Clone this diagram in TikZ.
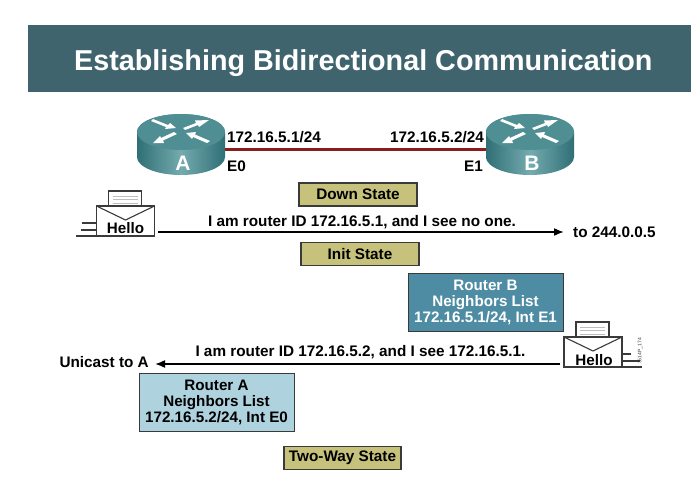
\documentclass[tikz,border=0pt]{standalone}
\usepackage{fontspec}
\setmainfont{Liberation Sans}
\usetikzlibrary{arrows.meta}
\definecolor{headbar}{HTML}{3F646E}
\definecolor{routertop}{HTML}{4F8E93}
\definecolor{routerdark}{HTML}{2F6F75}
\definecolor{routerlight}{HTML}{74ABAE}
\definecolor{linkred}{HTML}{8A1C1C}
\definecolor{statefill}{HTML}{C6C27C}
\definecolor{tealbox}{HTML}{4E8CA3}
\definecolor{lightbox}{HTML}{AFD2DF}
\definecolor{inkgrey}{HTML}{3A3A3A}
\definecolor{papergrey}{HTML}{BDBDBD}
\tikzset{
  x=1pt,y=-1pt,
  lbl/.style={font=\bfseries\fontsize{15.3}{16}\selectfont,text=black,inner sep=0pt},
  statebox/.style={draw=inkgrey,line width=1.1pt,fill=statefill,minimum width=118pt,minimum height=23pt,inner sep=0pt,font=\bfseries\fontsize{15.3}{16}\selectfont},
  listbox/.style={draw=inkgrey,line width=1pt,minimum width=155pt,minimum height=58pt,inner sep=0pt,align=center,font=\bfseries\fontsize{15.2}{16}\selectfont},
  routerletter/.style={font=\bfseries\fontsize{21}{22}\selectfont,text=white,inner sep=0pt},
  flow/.style={line width=1.6pt,draw=black,-{Latex[length=10pt,width=8pt]}},
  envline/.style={draw=inkgrey,line width=1.1pt},
  paperline/.style={draw=papergrey,line width=.7pt},
  hellotext/.style={font=\bfseries\fontsize{15.2}{16}\selectfont,inner sep=0pt}
}
% router: #1 centre x, #2 letter, #3 node name
\newcommand{\routerdraw}[3]{%
  \begin{scope}[shift={(#1,0)}]
    \shade[left color=routerdark,right color=routerdark,middle color=routerlight]
      (-44,132) -- (-44,157) arc[start angle=180,end angle=0,x radius=44,y radius=18] -- (44,132) arc[start angle=0,end angle=-180,x radius=44,y radius=18] -- cycle;
    \fill[routertop] (0,132) ellipse[x radius=44,y radius=18];
    \fill[white] (-28,119) -- (-13,125) -- (-11,123) -- (-5,128) -- (-16,129) -- (-15,127) -- (-30,121) -- cycle;
    \fill[white] (28,120) -- (14,120.5) -- (15,123) -- (2,128) -- (4,130) -- (17,125) -- (18,127) -- cycle;
    \fill[white] (-28,143) -- (-17,143) -- (-18,140.5) -- (-4,134) -- (-7,132) -- (-20,138) -- (-21,136) -- cycle;
    \fill[white] (5,133) -- (15,132) -- (14,134.5) -- (29,141) -- (26,143) -- (12,137) -- (11,139) -- cycle;
    \node[routerletter] (#3) at (2,163) {#2};
  \end{scope}}
% envelope: #1 left x, #2 top y
\newcommand{\envelopedraw}[2]{%
  \begin{scope}[shift={(#1,#2)}]
    \draw[envline,fill=white] (12,-15) rectangle (45,0);
    \draw[paperline] (16,-10) -- (41,-10) (16,-6.5) -- (41,-6.5) (16,-3) -- (41,-3);
    \draw[envline,fill=white] (0,0) rectangle (58,30);
    \draw[envline] (0,0) -- (29,14) -- (58,0);
  \end{scope}}
\begin{document}
\begin{tikzpicture}
\useasboundingbox (0,0) rectangle (699,479);
\fill[white] (0,0) rectangle (699,479);
\fill[headbar] (28,25) rectangle (691,92);
\node[font=\bfseries\fontsize{28.75}{30}\selectfont,text=white,inner sep=0pt,anchor=west] (title) at (74,63) {Establishing Bidirectional Communication};

\coordinate (linkA) at (224,149.5);
\coordinate (linkB) at (486,149.5);
\draw[linkred,line width=3pt] (linkA) -- (linkB);
\routerdraw{181}{A}{ra}
\routerdraw{530}{B}{rb}
\node[lbl,anchor=west] (ipa) at (227,137) {172.16.5.1/24};
\node[lbl,anchor=east] (ipb) at (484,137) {172.16.5.2/24};
\node[lbl,anchor=west] (e0) at (227,166) {E0};
\node[lbl,anchor=east] (e1) at (483,166) {E1};

\node[statebox] (down) at (358,194.5) {\raisebox{-.8pt}{Down State}};
\node[statebox] (init) at (360,254) {Init State};
\node[statebox,minimum width=117pt] (two) at (342.5,458) {Two-Way State};

\node[listbox,fill=tealbox,text=white] (listb) at (485.5,302) {Router B\\Neighbors List\\172.16.5.1/24, Int E1};
\node[listbox,fill=lightbox,text=black] (lista) at (216.5,402) {Router A\\Neighbors List\\172.16.5.2/24, Int E0};

% left hello
\envelopedraw{96.5}{206}
\draw[envline] (82,223) -- (96.5,223) (81,230) -- (96.5,230) (76,236) -- (96.5,236);
\node[hellotext] (hello1) at (125.5,228.5) {Hello};
\coordinate (dest1) at (564,232);
\coordinate (src1) at (158,232);
\draw[flow] (src1) -- (dest1);
\node[lbl,anchor=west] (to) at (573,232) {to 244.0.0.5};
\node[lbl] (msg1) at (362,222) {I am router ID 172.16.5.1, and I see no one.};

% right hello
\envelopedraw{564}{337}
\draw[envline] (622,354) -- (631,354) (622,361) -- (640,361) (622,367) -- (642,367);
\node[hellotext] (hello2) at (594,360) {Hello};
\node[rotate=90,font=\fontsize{5}{5}\selectfont,text=inkgrey,inner sep=0pt] (code) at (640,351) {3514P\_174};
\coordinate (src2) at (560,364);
\coordinate (dest2) at (155,364);
\draw[flow] (src2) -- (dest2);
\node[lbl,anchor=east] (uni) at (149,362) {Unicast to A};
\node[lbl] (msg2) at (360.5,352) {I am router ID 172.16.5.2, and I see 172.16.5.1.};
\end{tikzpicture}
\end{document}
